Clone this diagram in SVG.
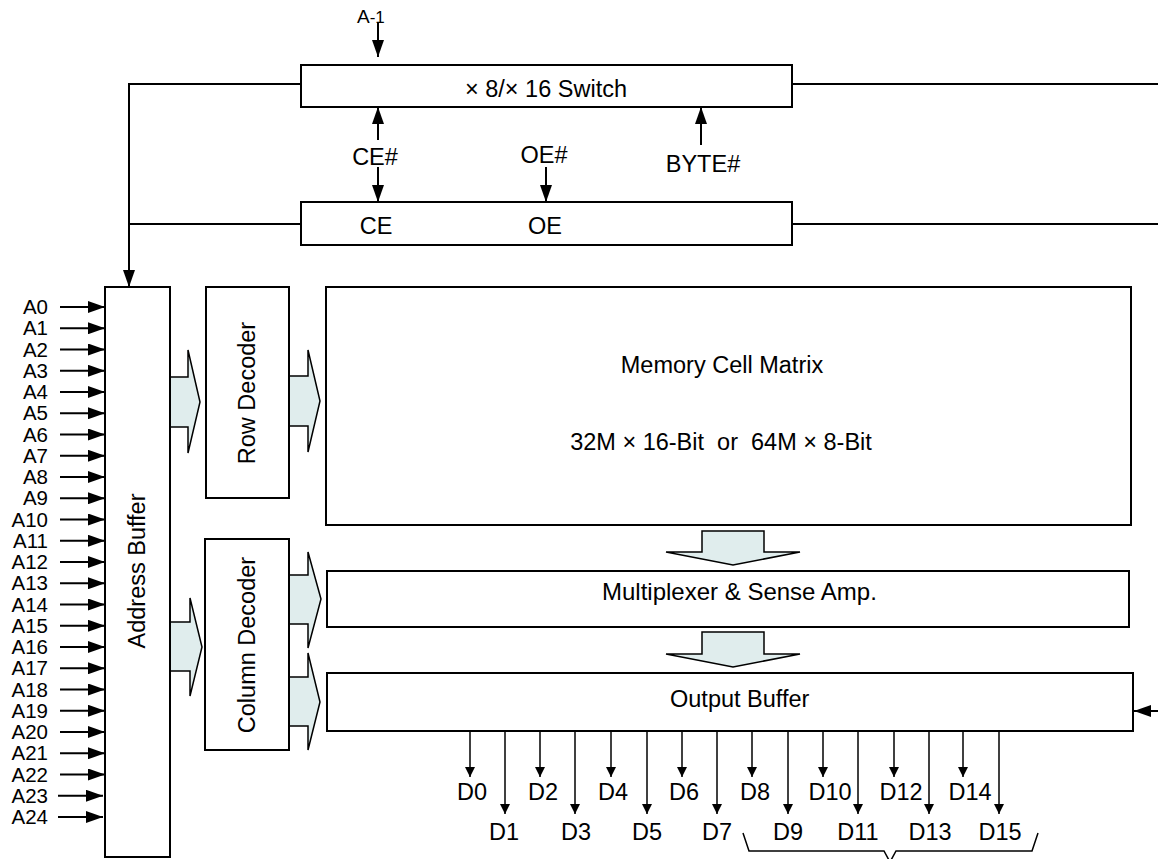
<svg xmlns="http://www.w3.org/2000/svg" width="1158" height="859" viewBox="0 0 1158 859">
<defs>
<style>
.box{fill:#fff;stroke:#000;stroke-width:2}
.ln{fill:none;stroke:#000;stroke-width:2}
.thin{fill:none;stroke:#000;stroke-width:1.5}
.blk{fill:#e0eded;stroke:#000;stroke-width:1.5;stroke-linejoin:miter}
.t{font-family:"Liberation Sans",Arial,sans-serif;font-size:23.5px;fill:#000}
.a{font-family:"Liberation Sans",Arial,sans-serif;font-size:20.5px;fill:#000;text-anchor:end}
.m{text-anchor:middle}
</style>
<marker id="ah" viewBox="0 0 17 12" refX="17" refY="6" markerWidth="17" markerHeight="12" markerUnits="userSpaceOnUse" orient="auto">
<path d="M0,0 L17,6 L0,12 Z" fill="#000"/>
</marker>
<marker id="ahs" viewBox="0 0 10 10" refX="10" refY="5" markerWidth="10" markerHeight="10" markerUnits="userSpaceOnUse" orient="auto">
<path d="M0,0 L10,5 L0,10 Z" fill="#000"/>
</marker>
</defs>
<rect width="1158" height="859" fill="#fff"/>

<g id="connectors">
<path class="ln" d="M301,84 H129 V287" marker-end="url(#ah)"/>
<path class="ln" d="M129,224 H301"/>
<path class="ln" d="M792,84 H1158"/>
<path class="ln" d="M792,224 H1158"/>
<path class="ln" d="M378,22 V57" marker-end="url(#ah)"/>
<path class="ln" d="M378,140 V107" marker-end="url(#ah)"/>
<path class="ln" d="M378,167 V202" marker-end="url(#ah)"/>
<path class="ln" d="M546,167 V202" marker-end="url(#ah)"/>
<path class="ln" d="M701,145 V107" marker-end="url(#ah)"/>
<path class="ln" d="M1158,711 H1134" marker-end="url(#ah)"/>
<g id="addr-arrows">
<path class="ln" d="M60,307 H105" marker-end="url(#ah)"/>
<path class="ln" d="M60,328.25 H105" marker-end="url(#ah)"/>
<path class="ln" d="M60,349.5 H105" marker-end="url(#ah)"/>
<path class="ln" d="M60,370.75 H105" marker-end="url(#ah)"/>
<path class="ln" d="M60,392 H105" marker-end="url(#ah)"/>
<path class="ln" d="M60,413.25 H105" marker-end="url(#ah)"/>
<path class="ln" d="M60,434.5 H105" marker-end="url(#ah)"/>
<path class="ln" d="M60,455.75 H105" marker-end="url(#ah)"/>
<path class="ln" d="M60,477 H105" marker-end="url(#ah)"/>
<path class="ln" d="M60,498.25 H105" marker-end="url(#ah)"/>
<path class="ln" d="M60,519.5 H105" marker-end="url(#ah)"/>
<path class="ln" d="M60,540.75 H105" marker-end="url(#ah)"/>
<path class="ln" d="M60,562 H105" marker-end="url(#ah)"/>
<path class="ln" d="M60,583.25 H105" marker-end="url(#ah)"/>
<path class="ln" d="M60,604.5 H105" marker-end="url(#ah)"/>
<path class="ln" d="M60,625.75 H105" marker-end="url(#ah)"/>
<path class="ln" d="M60,647 H105" marker-end="url(#ah)"/>
<path class="ln" d="M60,668.25 H105" marker-end="url(#ah)"/>
<path class="ln" d="M60,689.5 H105" marker-end="url(#ah)"/>
<path class="ln" d="M60,710.75 H105" marker-end="url(#ah)"/>
<path class="ln" d="M60,732 H105" marker-end="url(#ah)"/>
<path class="ln" d="M60,753.25 H105" marker-end="url(#ah)"/>
<path class="ln" d="M60,774.5 H105" marker-end="url(#ah)"/>
<path class="ln" d="M58,795.75 H103" marker-end="url(#ah)"/>
<path class="ln" d="M58,817 H103" marker-end="url(#ah)"/>
</g>
<g id="data-arrows">
<path class="thin" d="M470,731 V777" marker-end="url(#ahs)"/>
<path class="thin" d="M505,731 V814" marker-end="url(#ahs)"/>
<path class="thin" d="M540,731 V777" marker-end="url(#ahs)"/>
<path class="thin" d="M575,731 V814" marker-end="url(#ahs)"/>
<path class="thin" d="M611,731 V777" marker-end="url(#ahs)"/>
<path class="thin" d="M647,731 V814" marker-end="url(#ahs)"/>
<path class="thin" d="M682,731 V777" marker-end="url(#ahs)"/>
<path class="thin" d="M717,731 V814" marker-end="url(#ahs)"/>
<path class="thin" d="M752,731 V777" marker-end="url(#ahs)"/>
<path class="thin" d="M788,731 V814" marker-end="url(#ahs)"/>
<path class="thin" d="M823,731 V777" marker-end="url(#ahs)"/>
<path class="thin" d="M858,731 V814" marker-end="url(#ahs)"/>
<path class="thin" d="M894,731 V777" marker-end="url(#ahs)"/>
<path class="thin" d="M929,731 V814" marker-end="url(#ahs)"/>
<path class="thin" d="M963,731 V777" marker-end="url(#ahs)"/>
<path class="thin" d="M999,731 V814" marker-end="url(#ahs)"/>
</g>
<path class="thin" d="M743,833 L749,851 L884,851 L890,862 L896,851 L1032,851 L1038,833"/>
<g id="block-arrows">
<polygon class="blk" points="170,377 188,377 188,350 200,402 188,453 188,427 170,427"/>
<polygon class="blk" points="289,376 308,376 308,350 320,401 308,452 308,426 289,426"/>
<polygon class="blk" points="170,622 190,622 190,598 202,647 190,696 190,671 170,671"/>
<polygon class="blk" points="289,575 308,575 308,552 321,599 308,648 308,624 289,624"/>
<polygon class="blk" points="289,677 308,677 308,653 320,702 308,750 308,726 289,726"/>
<polygon class="blk" points="702,531 764,531 764,552 800,552 733,565 666,552 702,552"/>
<polygon class="blk" points="702,632 764,632 764,654 800,654 733,667 666,654 702,654"/>
</g>
</g>

<g id="switch">
<rect class="box" x="301" y="65" width="491" height="42"/>
<text class="t m" x="546" y="97">× 8/× 16 Switch</text>
</g>
<g id="ce-oe">
<rect class="box" x="301" y="202" width="491" height="43"/>
<text class="t m" x="376" y="234">CE</text>
<text class="t m" x="545" y="234">OE</text>
</g>
<g id="signals">
<text class="t" x="357" y="23" style="font-size:19px">A<tspan style="font-size:17px">-1</tspan></text>
<text class="t m" x="375" y="165">CE#</text>
<text class="t m" x="544" y="163">OE#</text>
<text class="t m" x="703" y="172">BYTE#</text>
</g>
<g id="address-buffer">
<rect class="box" x="105" y="287" width="65" height="570"/>
<text class="t m" transform="translate(145,571) rotate(-90)">Address Buffer</text>
</g>
<g id="row-decoder">
<rect class="box" x="206" y="287" width="83" height="211"/>
<text class="t m" transform="translate(255,393) rotate(-90)">Row Decoder</text>
</g>
<g id="column-decoder">
<rect class="box" x="205" y="539" width="84" height="211"/>
<text class="t m" transform="translate(255,645) rotate(-90)">Column Decoder</text>
</g>
<g id="memory">
<rect class="box" x="326" y="287" width="805" height="238"/>
<text class="t m" x="722" y="373">Memory Cell Matrix</text>
<text class="t m" x="721" y="450" xml:space="preserve">32M × 16-Bit  or  64M × 8-Bit</text>
</g>
<g id="mux">
<rect class="box" x="327" y="571" width="802" height="56"/>
<text class="t" x="602" y="600" style="font-size:24px">Multiplexer &amp; Sense Amp.</text>
</g>
<g id="output-buffer">
<rect class="box" x="327" y="673" width="806" height="58"/>
<text class="t" x="670" y="707">Output Buffer</text>
</g>
<g id="addr-labels">
<text class="a" x="48" y="314">A0</text>
<text class="a" x="48" y="335.25">A1</text>
<text class="a" x="48" y="356.5">A2</text>
<text class="a" x="48" y="377.75">A3</text>
<text class="a" x="48" y="399">A4</text>
<text class="a" x="48" y="420.25">A5</text>
<text class="a" x="48" y="441.5">A6</text>
<text class="a" x="48" y="462.75">A7</text>
<text class="a" x="48" y="484">A8</text>
<text class="a" x="48" y="505.25">A9</text>
<text class="a" x="48" y="526.5">A10</text>
<text class="a" x="48" y="547.75">A11</text>
<text class="a" x="48" y="569">A12</text>
<text class="a" x="48" y="590.25">A13</text>
<text class="a" x="48" y="611.5">A14</text>
<text class="a" x="48" y="632.75">A15</text>
<text class="a" x="48" y="654">A16</text>
<text class="a" x="48" y="675.25">A17</text>
<text class="a" x="48" y="696.5">A18</text>
<text class="a" x="48" y="717.75">A19</text>
<text class="a" x="48" y="739">A20</text>
<text class="a" x="48" y="760.25">A21</text>
<text class="a" x="48" y="781.5">A22</text>
<text class="a" x="48" y="802.75">A23</text>
<text class="a" x="48" y="824">A24</text>
</g>
<g id="data-labels">
<text class="t m" x="472" y="800">D0</text>
<text class="t m" x="504" y="840">D1</text>
<text class="t m" x="543" y="800">D2</text>
<text class="t m" x="576" y="840">D3</text>
<text class="t m" x="613" y="800">D4</text>
<text class="t m" x="647" y="840">D5</text>
<text class="t m" x="684" y="800">D6</text>
<text class="t m" x="717" y="840">D7</text>
<text class="t m" x="755" y="800">D8</text>
<text class="t m" x="788" y="840">D9</text>
<text class="t m" x="830" y="800">D10</text>
<text class="t m" x="858" y="840">D11</text>
<text class="t m" x="901" y="800">D12</text>
<text class="t m" x="930" y="840">D13</text>
<text class="t m" x="970" y="800">D14</text>
<text class="t m" x="1000" y="840">D15</text>
</g>
</svg>
